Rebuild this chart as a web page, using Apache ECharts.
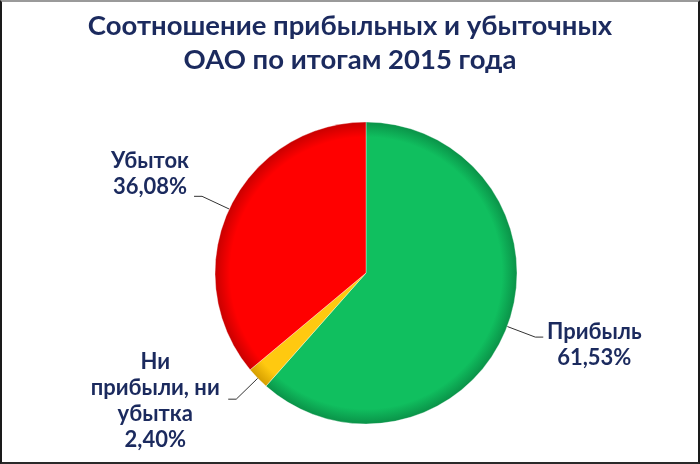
<!DOCTYPE html>
<html>
<head>
<meta charset="utf-8">
<script src="https://cdn.jsdelivr.net/npm/echarts@6/dist/echarts.min.js"></script>
<style>
  html, body { margin: 0; padding: 0; background: #fff; }
  #chart {
    width: 700px; height: 464px; box-sizing: border-box;
    border-left: 2px solid #1a1a1a; border-right: 2px solid #1a1a1a;
    border-top: 2px solid #9a9a9a; border-bottom: 2px solid #2a2a2a;
  }
</style>
</head>
<body>
<div id="chart"></div>
<script>
// данные
const categories = ['Прибыль', 'Ни прибыли, ни убытка', 'Убыток'];
const labelTexts = [['Прибыль'], ['Ни', 'прибыли, ни', 'убытка'], ['Убыток']];
const values = [61.53, 2.40, 36.08];
const baseColors = ['#10BF5F', '#FFC910', '#FF0000'];
const rimColors = ['#0A9248', '#D59E00', '#C80000'];

// ширина блока подписи и сдвиг текста относительно выноски
const labelWidths = [96, 140, 82];
const labelPads = [[16, 0, 0, 0], [4, 0, 0, 0], [0, 0, 44, 0]];

const CX = 364, CY = 271, R = 151;   // центр и радиус круга в пикселях (внутри рамки)
const navy = '#1B2A5E';

const chart = echarts.init(document.getElementById('chart'));

// радиальный градиент — эффект рельефа по краю
const shade = (i) => ({
    type: 'radial', x: CX, y: CY, r: R, global: true,
    colorStops: [
        {offset: 0, color: baseColors[i]},
        {offset: 0.9, color: baseColors[i]},
        {offset: 1, color: rimColors[i]}
    ]
});

const fmt = (v) => v.toFixed(2).replace('.', ',') + '%';

const richStyle = (w) => ({
    c: {
        fontFamily: 'Lato', fontWeight: 'bold', fontSize: 22,
        lineHeight: 26, color: navy, width: w, align: 'center'
    }
});

chart.setOption({
    title: {
        text: 'Соотношение прибыльных и убыточных\nОАО по итогам 2015 года',
        left: 'center',
        top: 2,
        textStyle: {
            fontFamily: 'Lato', fontWeight: 'bold', fontSize: 27.5,
            lineHeight: 34, color: navy
        }
    },
    series: [{
        type: 'pie',
        center: [CX, CY],
        radius: R,
        startAngle: 90,
        clockwise: true,
        animation: false,
        data: categories.map((name, i) => ({
            name: name,
            value: values[i],
            itemStyle: {color: shade(i)},
            label: {padding: labelPads[i], rich: richStyle(labelWidths[i])}
        })),
        itemStyle: {borderColor: 'rgba(255,255,255,0.35)', borderWidth: 1},
        label: {
            show: true,
            position: 'outside',
            distanceToLabelLine: 3,
            formatter: (p) => labelTexts[p.dataIndex].concat([fmt(values[p.dataIndex])])
                .map(s => '{c|' + s + '}').join('\n'),
            rich: richStyle(100)
        },
        labelLine: {
            show: true, length: 30, length2: 8,
            lineStyle: {color: '#333', width: 1}
        }
    }]
});
</script>
</body>
</html>
